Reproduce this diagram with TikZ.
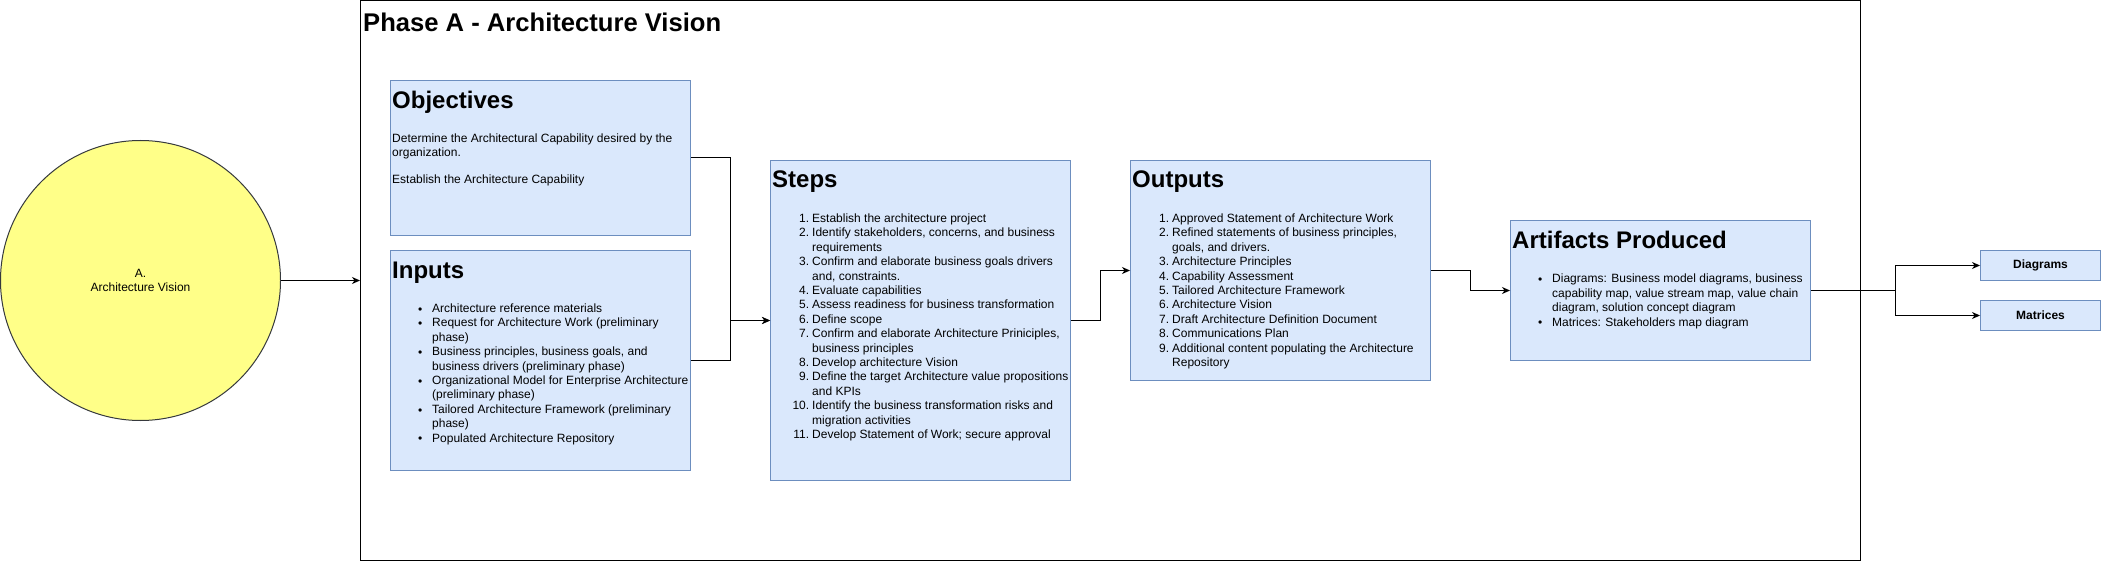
\documentclass[tikz,border=0pt]{standalone}
\usepackage{fontspec}
\setmainfont{Liberation Sans}
\usetikzlibrary{arrows.meta,calc}
\definecolor{boxfill}{HTML}{DAE8FC}
\definecolor{boxline}{HTML}{6C8EBF}
\definecolor{circfill}{HTML}{FFFF88}
\definecolor{circline}{HTML}{36393D}
\newcommand\mylines[1]{\begin{tabular}[t]{@{}l@{}}#1\end{tabular}}
\newcommand\bul{\llap{\raisebox{-0.8pt}{\textbullet}\hspace{10pt}}}
\newcommand\itemnum[1]{\llap{#1.\hspace{3pt}}}
\begin{document}
\begin{tikzpicture}[x=1pt,y=-1pt,
  box/.style={draw=boxline, fill=boxfill, line width=1pt, rectangle, inner sep=0pt, anchor=north west},
  heading/.style={anchor=base west, inner sep=0pt, font=\fontsize{24}{28.8}\selectfont\bfseries},
  body/.style={anchor=base west, inner sep=0pt, font=\fontsize{12}{14.4}\selectfont},
  conn/.style={line width=1pt, draw=black},
  arr/.style={conn, -{Stealth[length=8pt,width=7pt,inset=2.5pt]}},
]
\useasboundingbox (0,0) rectangle (2101,561);

% frame
\node[draw=black, line width=1pt, minimum width=1500pt, minimum height=560pt, inner sep=0pt, anchor=north west] (phase) at (360,0) {};
\node[heading, font=\fontsize{25.6}{30}\selectfont\bfseries] (title) at (363,31.7) {Phase A - Architecture Vision};

% circle
\node[circle, draw=circline, fill=circfill, line width=1pt, minimum size=280pt, inner sep=0pt, align=center, font=\fontsize{12}{14.4}\selectfont] (av) at (140.5,280.5) {A.\\Architecture Vision};

% boxes
\node[box, minimum width=300pt, minimum height=155pt] (obj) at (390,80) {};
\node[box, minimum width=300pt, minimum height=220pt] (inp) at (390,250) {};
\node[box, minimum width=300pt, minimum height=320pt] (steps) at (770,160) {};
\node[box, minimum width=300pt, minimum height=220pt] (outp) at (1130,160) {};
\node[box, minimum width=300pt, minimum height=140pt] (art) at (1510,220) {};
\node[box, minimum width=120pt, minimum height=30pt, font=\fontsize{12}{14.4}\selectfont\bfseries] (diag) at (1980,250) {Diagrams};
\node[box, minimum width=120pt, minimum height=30pt, font=\fontsize{12}{14.4}\selectfont\bfseries] (mat) at (1980,300) {Matrices};

% objectives text
\node[heading] (objh) at ([xshift=2pt,yshift=-29pt]obj.north west) {Objectives};
\node[body] (objt) at ([xshift=2pt,yshift=-62.5pt]obj.north west) {\mylines{%
Determine the Architectural Capability desired by the\\
organization.\\[12pt]
Establish the Architecture Capability}};

% inputs text
\node[heading] (inph) at ([xshift=2pt,yshift=-29pt]inp.north west) {Inputs};
\node[body] (inpt) at ([xshift=42pt,yshift=-62.5pt]inp.north west) {\mylines{%
\bul Architecture reference materials\\
\bul Request for Architecture Work (preliminary\\
phase)\\
\bul Business principles, business goals, and\\
business drivers (preliminary phase)\\
\bul Organizational Model for Enterprise Architecture\\
(preliminary phase)\\
\bul Tailored Architecture Framework (preliminary\\
phase)\\
\bul Populated Architecture Repository}};

% steps text
\node[heading] (stepsh) at ([xshift=2pt,yshift=-28pt]steps.north west) {Steps};
\node[body] (stepst) at ([xshift=42pt,yshift=-62.5pt]steps.north west) {\mylines{%
\itemnum{1}Establish the architecture project\\
\itemnum{2}Identify stakeholders, concerns, and business\\
requirements\\
\itemnum{3}Confirm and elaborate business goals drivers\\
and, constraints.\\
\itemnum{4}Evaluate capabilities\\
\itemnum{5}Assess readiness for business transformation\\
\itemnum{6}Define scope\\
\itemnum{7}Confirm and elaborate Architecture Priniciples,\\
business principles\\
\itemnum{8}Develop architecture Vision\\
\itemnum{9}Define the target Architecture value propositions\\
and KPIs\\
\itemnum{10}Identify the business transformation risks and\\
migration activities\\
\itemnum{11}Develop Statement of Work; secure approval}};

% outputs text
\node[heading] (outph) at ([xshift=2pt,yshift=-28pt]outp.north west) {Outputs};
\node[body] (outpt) at ([xshift=42pt,yshift=-62.5pt]outp.north west) {\mylines{%
\itemnum{1}Approved Statement of Architecture Work\\
\itemnum{2}Refined statements of business principles,\\
goals, and drivers.\\
\itemnum{3}Architecture Principles\\
\itemnum{4}Capability Assessment\\
\itemnum{5}Tailored Architecture Framework\\
\itemnum{6}Architecture Vision\\
\itemnum{7}Draft Architecture Definition Document\\
\itemnum{8}Communications Plan\\
\itemnum{9}Additional content populating the Architecture\\
Repository}};

% artifacts text
\node[heading] (arth) at ([xshift=2pt,yshift=-29pt]art.north west) {Artifacts Produced};
\node[body] (artt) at ([xshift=42pt,yshift=-63pt]art.north west) {\mylines{%
\bul Diagrams: Business model diagrams, business\\
capability map, value stream map, value chain\\
diagram, solution concept diagram\\
\bul Matrices: Stakeholders map diagram}};

% connectors
\draw[arr] (av.east) -- (phase.west);
\draw[arr] (obj.east) -| ($(obj.east)!.5!(steps.west)$) |- (steps.west);
\draw[arr] (inp.east) -| ($(inp.east)!.5!(steps.west)$) |- (steps.west);
\draw[arr] (steps.east) -| ($(steps.east)!.5!(outp.west)$) |- (outp.west);
\draw[arr] (outp.east) -| ($(outp.east)!.5!(art.west)$) |- (art.west);
\draw[arr] (art.east) -| ($(art.east)!.5!(diag.west)$) |- (diag.west);
\draw[arr] (art.east) -| ($(art.east)!.5!(mat.west)$) |- (mat.west);
\end{tikzpicture}
\end{document}
